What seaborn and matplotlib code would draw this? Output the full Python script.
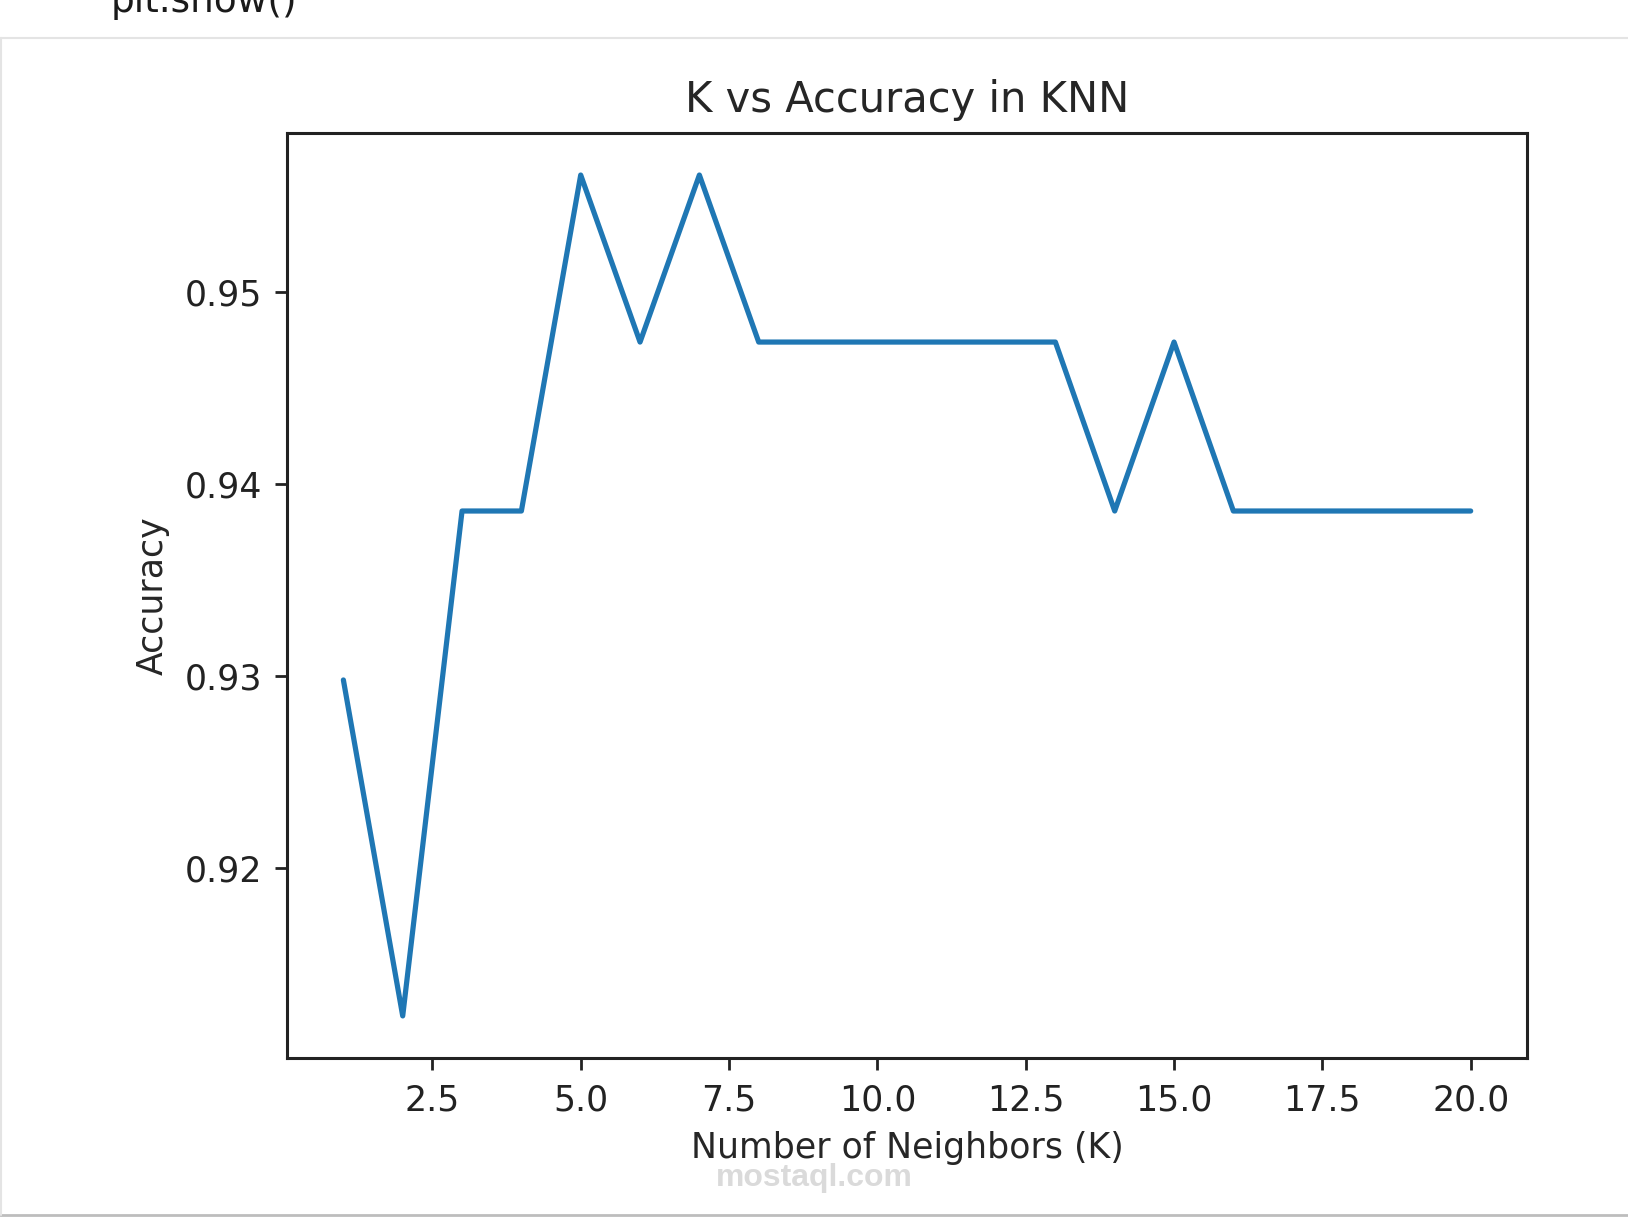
import matplotlib
matplotlib.use("Agg")
import matplotlib.pyplot as plt
import seaborn as sns
import pandas as pd
from matplotlib.lines import Line2D

# accuracy per k
k_values = list(range(1, 21))
accuracy = [0.9298, 0.9123, 0.9386, 0.9386, 0.9561, 0.9474, 0.9561, 0.9474,
            0.9474, 0.9474, 0.9474, 0.9474, 0.9474, 0.9386, 0.9474, 0.9386,
            0.9386, 0.9386, 0.9386, 0.9386]

df = pd.DataFrame({"K": k_values, "Accuracy": accuracy})

sns.set_style("ticks")
plt.rcParams["font.family"] = ["DejaVu Sans"]

fig = plt.figure(figsize=(16.28, 12.2), dpi=100)
ax = fig.add_axes([0.1763, 0.1328, 0.7617, 0.7582])

sns.lineplot(data=df, x="K", y="Accuracy", ax=ax, color="#1f77b4", linewidth=3.75)

ax.set_title("K vs Accuracy in KNN", fontsize=30, pad=15)
ax.set_xlabel("Number of Neighbors (K)", fontsize=25, labelpad=10)
ax.set_ylabel("Accuracy", fontsize=25, labelpad=11)
ax.set_xticks([2.5, 5.0, 7.5, 10.0, 12.5, 15.0, 17.5, 20.0])
ax.set_yticks([0.92, 0.93, 0.94, 0.95])
ax.tick_params(labelsize=25, length=8.75, width=2, colors="#222222")
ax.tick_params(axis="x", pad=9.5)
ax.tick_params(axis="y", pad=9)
for s in ax.spines.values():
    s.set_linewidth(2.2)
    s.set_color("#222222")

# notebook cell decoration around the output
fig.add_artist(Line2D([0, 1], [1 - 38 / 1220, 1 - 38 / 1220], color="#e4e4e4", lw=1.5))
fig.add_artist(Line2D([0, 1], [1 - 1215 / 1220, 1 - 1215 / 1220], color="#bdbdbd", lw=2))
fig.add_artist(Line2D([0.0008, 0.0008], [1 - 1215 / 1220, 1 - 38 / 1220], color="#e4e4e4", lw=1.5))
fig.text(0.068, 0.998, "plt.show()", fontsize=27, color="#1a1a1a", va="center", ha="left")
fig.text(0.5, 1 - 1178 / 1220, "mostaql.com", fontsize=23, color="#dadada",
         ha="center", va="center", fontweight="bold", family="Liberation Sans")

fig.savefig("out.png", dpi=100)
